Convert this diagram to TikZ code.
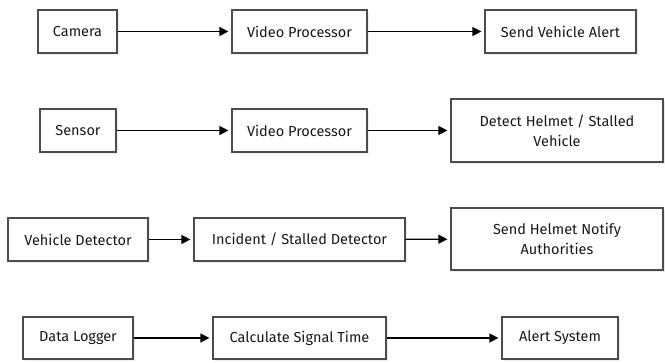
\documentclass[tikz,border=0pt]{standalone}
\usepackage{fontspec}
\setmainfont{Fira Sans}
\usetikzlibrary{arrows.meta,shadows}
\begin{document}
\begin{tikzpicture}[x=1pt,y=-1pt,
  box/.style={draw=black!70,line width=1.2pt,fill=white,align=center,inner sep=0pt,
    font=\fontsize{14.5}{19.5}\selectfont,text=black!90,
    drop shadow={shadow xshift=2pt,shadow yshift=-2pt,opacity=.15}},
  arr/.style={-{Triangle[length=9pt,width=9pt]},line width=1.2pt,shorten >=3pt}]
\useasboundingbox (0,0) rectangle (665,363);
% row 1
\node[box,minimum width=79pt,minimum height=43pt] (cam) at (77.5,31.5) {Camera};
\node[box,minimum width=135pt,minimum height=43pt] (vp1) at (299.5,31.5) {Video Processor};
\node[box,minimum width=151pt,minimum height=43pt] (sva) at (560.5,31.5) {Send Vehicle Alert};
% row 2
\node[box,minimum width=76pt,minimum height=43pt] (sen) at (78,130.5) {Sensor};
\node[box,minimum width=135pt,minimum height=43pt] (vp2) at (299.5,130.5) {Video Processor};
\node[box,minimum width=212pt,minimum height=63pt] (det) at (557,130.5) {Detect Helmet / Stalled\\Vehicle};
% row 3
\node[box,minimum width=140pt,minimum height=43pt] (vd) at (78,239.5) {Vehicle Detector};
\node[box,minimum width=211pt,minimum height=43pt] (isd) at (299.5,239.5) {Incident / Stalled Detector};
\node[box,minimum width=212pt,minimum height=62pt] (shn) at (557,239) {Send Helmet Notify\\Authorities};
% row 4
\node[box,minimum width=110pt,minimum height=42pt] (dl) at (78,338) {Data Logger};
\node[box,minimum width=173pt,minimum height=42pt] (cst) at (299.5,338) {Calculate Signal Time};
\node[box,minimum width=116pt,minimum height=42pt] (as) at (560,338) {Alert System};
% arrows
\draw[arr] (cam) -- (vp1);
\draw[arr] (vp1) -- (sva);
\draw[arr] (sen) -- (vp2);
\draw[arr] (vp2) -- (det);
\draw[arr] (vd) -- (isd);
\draw[arr] (isd) -- (shn);
\draw[arr] (dl) -- (cst);
\draw[arr] (cst) -- (as);
\end{tikzpicture}
\end{document}
